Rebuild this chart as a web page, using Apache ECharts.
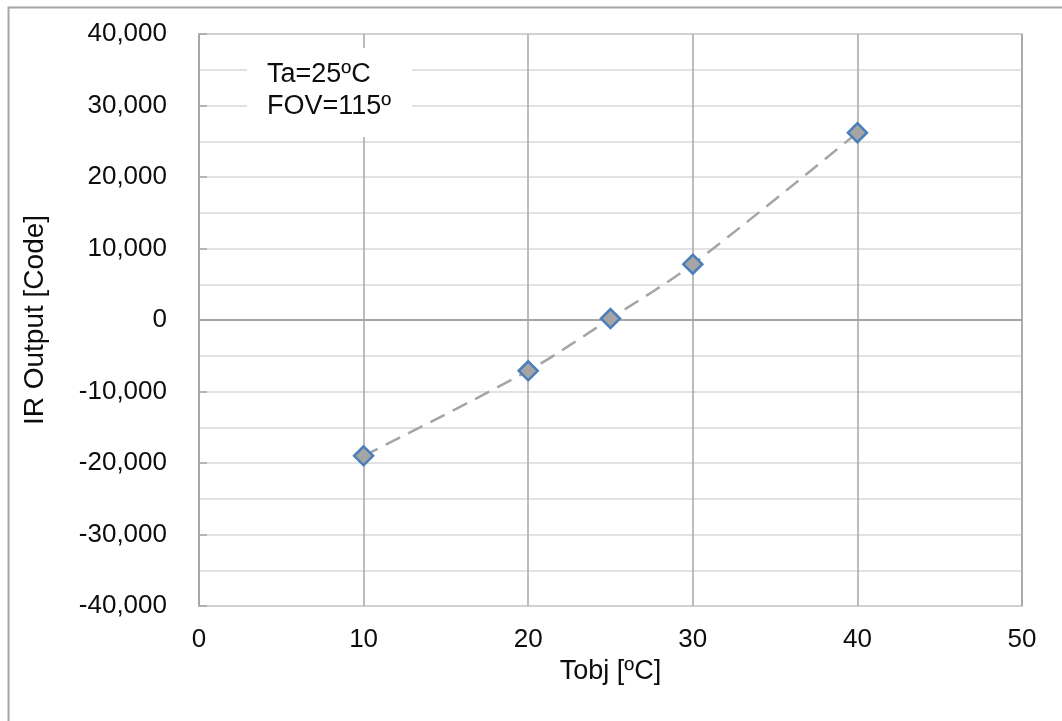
<!DOCTYPE html>
<html>
<head>
<meta charset="utf-8">
<script src="https://cdn.jsdelivr.net/npm/echarts@6/dist/echarts.min.js"></script>
<style>
html,body{margin:0;padding:0;background:#fff;}
#c{width:1062px;height:721px;}
</style>
</head>
<body>
<div id="c"></div>
<script>
const tobj = [10, 20, 25, 30, 40];
const irOutput = [-19000, -7100, 200, 7800, 26200];
const annotationLines = ['Ta=25ºC', 'FOV=115º'];
const xAxisName = 'Tobj [ºC]';
const yAxisName = 'IR Output [Code]';

const FONT = '"Liberation Sans", Arial, sans-serif';
const chart = echarts.init(document.getElementById('c'), null, {renderer: 'canvas'});
chart.setOption({
  backgroundColor: '#fff',
  animation: false,
  textStyle: {fontFamily: FONT},
  grid: {left: 199, right: 40, top: 34, bottom: 115, show: true, borderColor: '#a6a6a6', borderWidth: 1.5, containLabel: false},
  xAxis: {
    type: 'value', min: 0, max: 50, interval: 10,
    name: xAxisName, nameLocation: 'middle', nameGap: 52,
    nameTextStyle: {fontSize: 27, color: '#0d0d0d', fontFamily: FONT},
    axisLine: {show: true, lineStyle: {color: '#a6a6a6', width: 1.5}},
    axisTick: {show: false},
    axisLabel: {fontSize: 26, color: '#0d0d0d', margin: 21, fontFamily: FONT},
    splitLine: {show: true, lineStyle: {color: '#a6a6a6', width: 1.5}}
  },
  yAxis: {
    type: 'value', min: -40000, max: 40000, interval: 10000,
    name: yAxisName, nameLocation: 'middle', nameGap: 150, nameRotate: 90,
    nameTextStyle: {fontSize: 28, color: '#0d0d0d', fontFamily: FONT},
    axisLine: {show: true, lineStyle: {color: '#a6a6a6', width: 1.5}},
    axisTick: {show: true, inside: true, length: 8, lineStyle: {color: '#a6a6a6', width: 1.5}},
    axisLabel: {fontSize: 26, color: '#0d0d0d', margin: 32, fontFamily: FONT,
      formatter: v => v.toLocaleString('en-US')},
    splitLine: {show: true, lineStyle: {color: '#d9d9d9', width: 1.5}},
    minorTick: {show: false, splitNumber: 2},
    minorSplitLine: {show: true, lineStyle: {color: '#d9d9d9', width: 1.5}}
  },
  series: [{
    type: 'line',
    data: tobj.map((x, i) => [x, irOutput[i]]),
    smooth: 0.3,
    symbol: 'diamond',
    symbolSize: 19,
    lineStyle: {color: '#a5a5a5', width: 2.5, type: [16, 9]},
    itemStyle: {color: '#a5a5a5', borderColor: '#4a7ebb', borderWidth: 2.5},
    z: 5,
    markLine: {
      silent: true, symbol: 'none', label: {show: false},
      lineStyle: {color: '#a6a6a6', width: 2, type: 'solid'},
      data: [{yAxis: 0}],
      z: 3
    }
  }],
  graphic: [
    {type: 'rect', left: 6, top: 5, z: 0, silent: true,
     shape: {width: 1200, height: 900}, style: {fill: 'none', stroke: '#a6a6a6', lineWidth: 2}},
    {type: 'rect', left: 247, top: 48, z: 10, silent: true,
     shape: {width: 165, height: 89}, style: {fill: '#fff'}},
    {type: 'text', left: 267, top: 59, z: 11, silent: true,
     style: {text: annotationLines.join('\n'), font: '27px ' + FONT, fill: '#0d0d0d', lineHeight: 32}}
  ]
});
</script>
</body>
</html>
